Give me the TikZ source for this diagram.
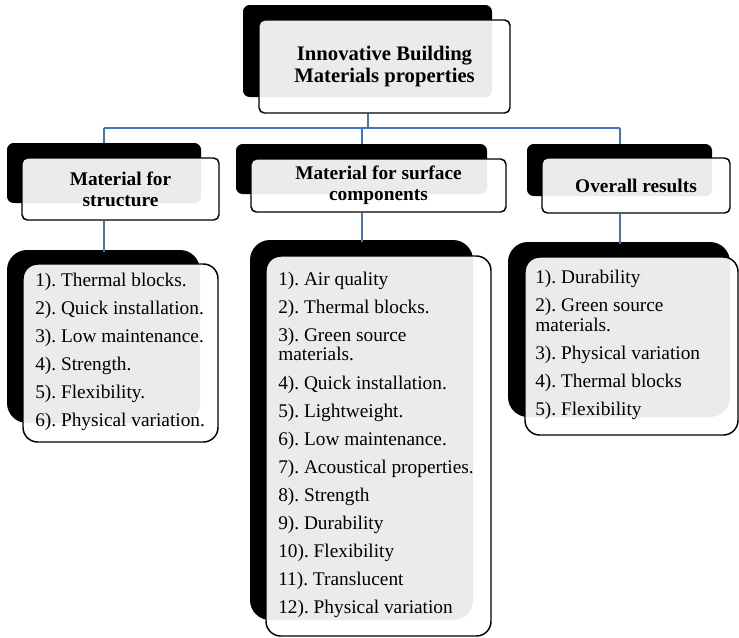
\documentclass[tikz,border=0pt]{standalone}
\usepackage{fontspec}
\setmainfont{Liberation Serif}
\frenchspacing
\def\px{0.75pt}

\begin{document}
\begin{tikzpicture}[x=0.75pt,y=0.75pt,yscale=-1,xscale=1,
  backbox/.style={fill=black, inner sep=0pt},
  frontbox/.style={draw=black, line width=1.1pt, fill=white, fill opacity=0.92, text opacity=1, inner sep=0pt, align=center},
  headtext/.style={font=\fontsize{14.5}{15.5}\selectfont\bfseries},
  itemtext/.style={anchor=west, inner sep=0pt, text height=10pt, text depth=3pt, font=\fontsize{14.5}{15}\selectfont},
  link/.style={color={rgb, 255:red, 68; green, 114; blue, 196 }, line width=1.5pt}]
\useasboundingbox (0,0) rectangle (739,637);

%Shape: Rounded Rect [back boxes]
\node[backbox, rounded corners=5pt, minimum width=249*\px, minimum height=92*\px] (topB) at (367.5,51) {};
\node[backbox, rounded corners=5pt, minimum width=194*\px, minimum height=60*\px] (leftB) at (104,173) {};
\node[backbox, rounded corners=5pt, minimum width=251*\px, minimum height=50*\px] (midB) at (361.5,169) {};
\node[backbox, rounded corners=5pt, minimum width=185*\px, minimum height=52*\px] (rightB) at (619.5,170) {};
\node[backbox, rounded corners=15pt, minimum width=193*\px, minimum height=173*\px] (leftLB) at (103.5,336.5) {};
\node[backbox, rounded corners=15pt, minimum width=223*\px, minimum height=380*\px] (midLB) at (361.5,430) {};
\node[backbox, rounded corners=15pt, minimum width=222*\px, minimum height=175*\px] (rightLB) at (619,329.5) {};

%Shape: Rounded Rect [front boxes]
\node[frontbox, rounded corners=4pt, minimum width=251*\px, minimum height=93*\px, font=\fontsize{15.5}{17.2}\selectfont\bfseries] (topF) at (384.5,66.5) {Innovative Building\\Materials properties};
\node[frontbox, headtext, rounded corners=4pt, minimum width=197*\px, minimum height=62*\px] (leftF) at (120.5,189) {Material for\\structure};
\node[frontbox, headtext, rounded corners=4pt, minimum width=255*\px, minimum height=53*\px] (midF) at (378.5,185.5) {Material for surface\\components};
\node[frontbox, headtext, rounded corners=4pt, minimum width=188*\px, minimum height=55*\px] (rightF) at (636,185.5) {Overall results};
\node[frontbox, rounded corners=11pt, minimum width=195*\px, minimum height=178*\px] (leftLF) at (120.5,353) {};
\node[frontbox, rounded corners=11pt, minimum width=225*\px, minimum height=380*\px] (midLF) at (378.5,446) {};
\node[frontbox, rounded corners=11pt, minimum width=213*\px, minimum height=178*\px] (rightLF) at (631.5,346) {};

%Straight Lines [connectors]
\coordinate (bus) at (0,128);
\draw[link] (topB |- topF.south) -- (topB |- bus);
\draw[link] (leftB |- bus) -- (rightB |- bus);
\draw[link] (leftB |- bus) -- (leftB.north);
\draw[link] (midB |- bus) -- (midB.north);
\draw[link] (rightB |- bus) -- (rightB.north);
\draw[link] (leftB |- leftF.south) -- ([yshift=2pt]leftB |- leftLB.north);
\draw[link] (midB |- midF.south) -- ([yshift=2pt]midB |- midLB.north);
\draw[link] (rightB |- rightF.south) -- ([yshift=2pt]rightB |- rightLB.north);

% Text Node
\foreach \y/\txt in {282/{1). Thermal blocks.}, 310/{2). Quick installation.}, 338/{3). Low maintenance.}, 366/{4). Strength.}, 394/{5). Flexibility.}, 422/{6). Physical variation.}}
  \node[itemtext] (lft-\y) at (35,\y) {\txt};
% Text Node
\foreach \y/\txt in {281/{1). Air quality}, 309/{2). Thermal blocks.}, 337/{3). Green source}, 356/{materials.}, 385/{4). Quick installation.}, 413/{5). Lightweight.}, 441/{6). Low maintenance.}, 469/{7). Acoustical properties.}, 497/{8). Strength}, 525/{9). Durability}, 553/{10). Flexibility}, 581/{11). Translucent}, 609/{12). Physical variation}}
  \node[itemtext] (mid-\y) at (278,\y) {\txt};
% Text Node
\foreach \y/\txt in {279/{1). Durability}, 307/{2). Green source}, 327/{materials.}, 355/{3). Physical variation}, 383/{4). Thermal blocks}, 411/{5). Flexibility}}
  \node[itemtext] (rgt-\y) at (535,\y) {\txt};

\end{tikzpicture}
\end{document}
